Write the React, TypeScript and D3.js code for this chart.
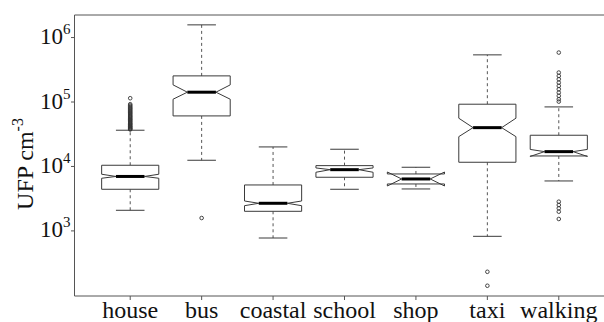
import React from "react";
import * as d3 from "d3";

const categories = ["house", "bus", "coastal", "school", "shop", "taxi", "walking"];
const lowerWhisker = [2089, 12480, 776, 4426, 4475, 824, 5955];
const q1Values = [4426, 60840, 2014, 6797, 5350, 11620, 14550];
const medianValues = [6996, 142000, 2683, 8917, 6397, 40010, 16980];
const q3Values = [10440, 254300, 5164, 10300, 7650, 92450, 30500];
const upperWhisker = [36480, 1574000, 20090, 18500, 9720, 538700, 83900];
const notchLow = [6558, 110500, 2462, 8128, 4980, 29020, 14300];
const notchHigh = [7570, 184400, 2911, 9480, 8200, 56020, 18370];
const outliers: number[][] = [
  [37500, 38200, 39000, 40100, 41300, 42000, 43500, 44800, 46000, 47200, 48900, 50300, 52000, 53600, 55100, 57000, 58800, 60500, 62400, 64700, 66900, 69000, 71500, 74000, 76800, 79500, 82000, 85300, 88600, 92500, 114500],
  [1585],
  [],
  [],
  [],
  [232, 141],
  [101400, 110500, 124500, 140000, 158000, 177800, 200000, 225900, 254000, 286300, 584800, 2840, 2523, 2244, 1987, 1531],
];
const yTickExponents = [3, 4, 5, 6];

const W = 604;
const H = 322;

export default function App() {
  const x = d3.scaleLinear().domain([0.22, 7.78]).range([74.5, 614.5]);
  const y = d3.scaleLog().domain([Math.pow(10, 1.99), Math.pow(10, 6.35)]).range([296, 15]);
  const unit = x(1) - x(0);
  const wb = 0.4 * unit;
  const wn = 0.2 * unit;
  const ws = 0.2 * unit;
  const left = x(0.22);
  const right = x(7.78);
  const top = y(Math.pow(10, 6.35));
  const bottom = y(Math.pow(10, 1.99));
  const font = "'Liberation Serif', 'Times New Roman', serif";
  const stroke = "#3a3a3a";

  return (
    <svg width={W} height={H} style={{ position: "absolute", left: 0, top: 0 }} fontFamily={font}>
      <rect x={0} y={0} width={W} height={H} fill="#fff" />
      {categories.map((c, i) => {
        const at = x(i + 1);
        const yq1 = y(q1Values[i]);
        const yq3 = y(q3Values[i]);
        const ym = y(medianValues[i]);
        const ynl = y(notchLow[i]);
        const ynh = y(notchHigh[i]);
        const xx = [-wb, -wb, -wn, -wb, -wb, wb, wb, wn, wb, wb].map((d) => at + d);
        const yy = [yq1, ynl, ym, ynh, yq3, yq3, ynh, ym, ynl, yq1];
        const pts = xx.map((d, k) => `${d},${yy[k]}`).join(" ");
        return (
          <g key={c}>
            <line x1={at} x2={at} y1={yq3} y2={y(upperWhisker[i])} stroke="#555" strokeDasharray="3,3" />
            <line x1={at} x2={at} y1={yq1} y2={y(lowerWhisker[i])} stroke="#555" strokeDasharray="3,3" />
            <line x1={at - ws} x2={at + ws} y1={y(upperWhisker[i])} y2={y(upperWhisker[i])} stroke={stroke} />
            <line x1={at - ws} x2={at + ws} y1={y(lowerWhisker[i])} y2={y(lowerWhisker[i])} stroke={stroke} />
            <polygon points={pts} fill="#fff" stroke={stroke} strokeWidth={1} />
            <line x1={at - wn} x2={at + wn} y1={ym} y2={ym} stroke="#000" strokeWidth={3} />
            {outliers[i].map((v, k) => (
              <circle key={k} cx={at} cy={y(v)} r={1.8} fill="none" stroke="#333" strokeWidth={0.9} />
            ))}
          </g>
        );
      })}
      <path d={`M${right},${top}H${left}V${bottom}H${right}V${top}`} fill="none" stroke="#555" />
      {yTickExponents.map((e) => {
        const ty = y(Math.pow(10, e));
        return (
          <g key={e}>
            <line x1={left - 3.5} x2={left} y1={ty} y2={ty} stroke="#555" />
            <text x={70.5} y={ty + 6.5} textAnchor="end" fontSize={23} fill="#111">
              10
              <tspan fontSize={15} dy={-10}>{e}</tspan>
            </text>
          </g>
        );
      })}
      {categories.map((c, i) => (
        <g key={c}>
          <line x1={x(i + 1)} x2={x(i + 1)} y1={bottom} y2={bottom + 4} stroke="#555" />
          <text x={x(i + 1)} y={318} textAnchor="middle" fontSize={24} fill="#111">
            {c}
          </text>
        </g>
      ))}
      <text transform={`translate(33,164) rotate(-90)`} textAnchor="middle" fontSize={24} fill="#111">
        UFP cm
        <tspan fontSize={16} dy={-10}>-3</tspan>
      </text>
    </svg>
  );
}
